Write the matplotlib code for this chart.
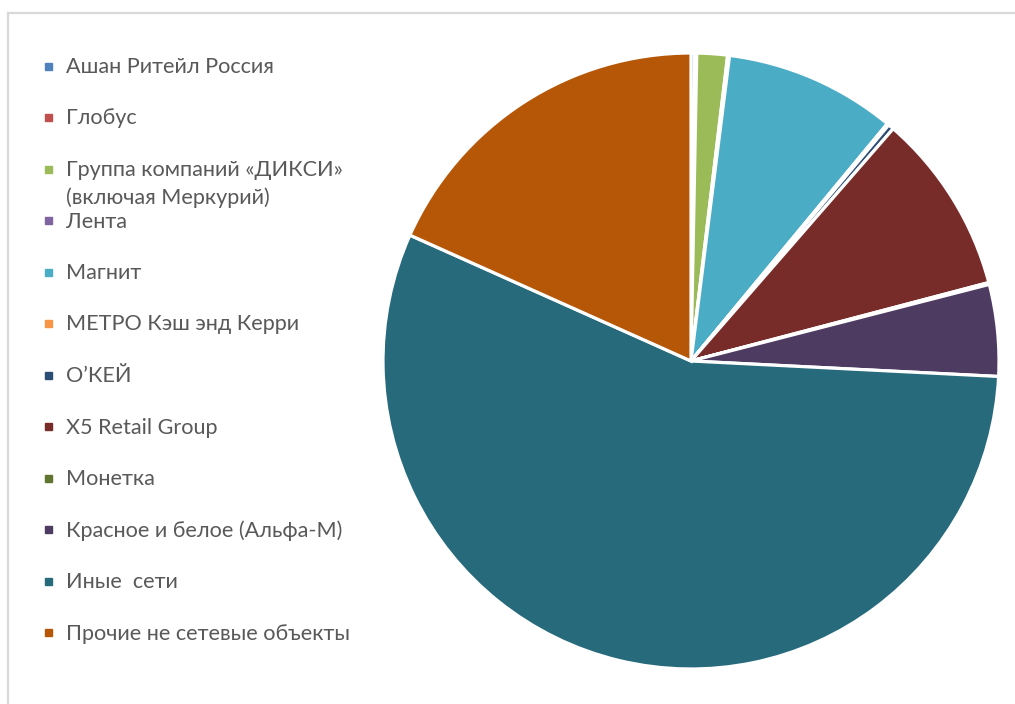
import matplotlib.pyplot as plt
from matplotlib.patches import Rectangle

labels = [
    "Ашан Ритейл Россия",
    "Глобус",
    "Группа компаний «ДИКСИ»\n(включая Меркурий)",
    "Лента",
    "Магнит",
    "МЕТРО Кэш энд Керри",
    "О’КЕЙ",
    "X5 Retail Group",
    "Монетка",
    "Красное и белое (Альфа-М)",
    "Иные  сети",
    "Прочие не сетевые объекты",
]
shares = [0.2, 0.1, 1.6, 0.1, 9.0, 0.1, 0.3, 9.5, 0.1, 4.8, 55.9, 18.3]
colors = ["#4F81BD", "#C0504D", "#9BBB59", "#8064A2", "#4BACC6", "#F79646",
          "#2C4D75", "#772C2A", "#5F7530", "#4D3B62", "#276A7C", "#B65708"]

W, H = 1015, 704
fig = plt.figure(figsize=(W / 100, H / 100), dpi=100)

# chart border (light gray, left and top visible)
fig.add_artist(plt.Line2D([7.5 / W, 7.5 / W], [0, 1 - 12.5 / H],
                          color="#D9D9D9", lw=1.6))
fig.add_artist(plt.Line2D([7.5 / W, 1], [1 - 12.5 / H, 1 - 12.5 / H],
                          color="#D9D9D9", lw=1.6))

# pie
cx, cy, r = 691, 361, 308
ax = fig.add_axes([(cx - r) / W, (H - cy - r) / H, 2 * r / W, 2 * r / H])
wedges, _ = ax.pie(shares, colors=colors, startangle=90, counterclock=False,
                   radius=1, wedgeprops=dict(edgecolor="white", linewidth=2.3))
for w in wedges:
    w.set_clip_on(False)
ax.set_xlim(-1, 1)
ax.set_ylim(-1, 1)
ax.axis("off")

# legend drawn by hand to match the spacing of the original
y0, step = 66, 51.5
for i, (lab, col) in enumerate(zip(labels, colors)):
    y = y0 + i * step
    fig.add_artist(Rectangle((45 / W, 1 - (y + 3.5) / H), 7 / W, 7 / H,
                             transform=fig.transFigure, color=col))
    fig.text(66 / W, 1 - (y - 9) / H, lab, ha="left", va="top",
             fontsize=15.6, family="Lato", color="#595959", linespacing=1.45)

fig.savefig("out.png", dpi=100)
